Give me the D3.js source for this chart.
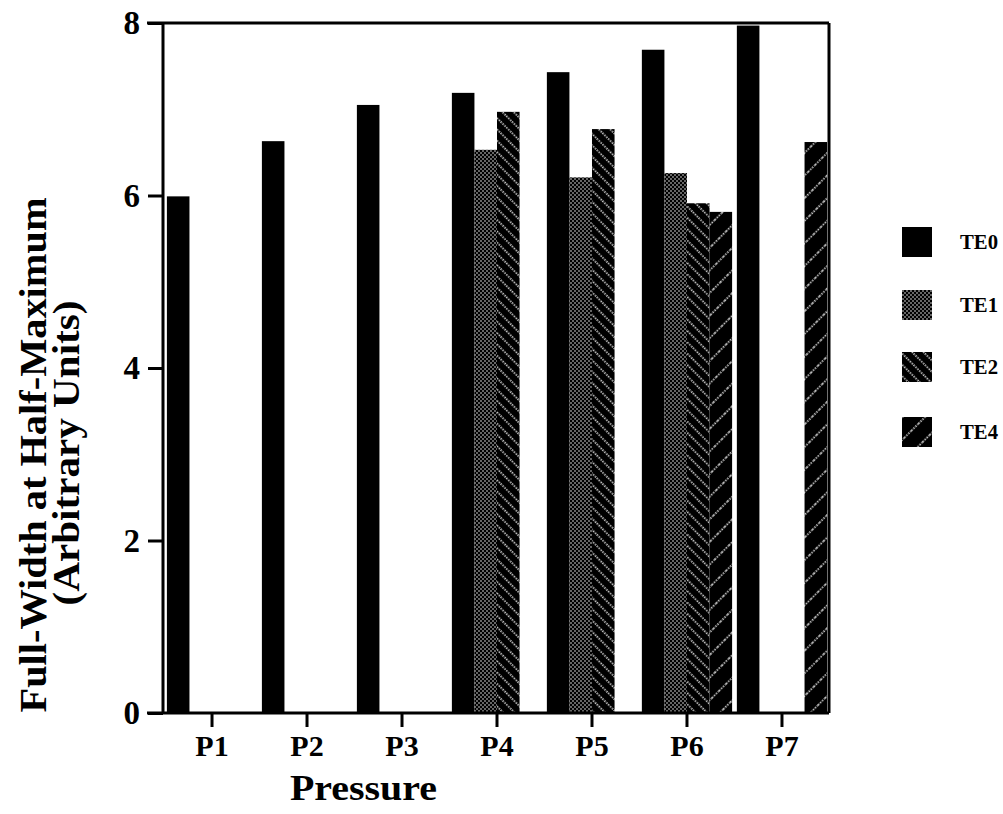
<!DOCTYPE html>
<html><head><meta charset="utf-8">
<script src="https://cdn.jsdelivr.net/npm/d3@7"></script>
<style>
body{margin:0;background:#fff;}
text{font-family:"Liberation Serif","Times New Roman",serif;}
</style></head>
<body>
<svg id="chart" width="1003" height="814"></svg>
<script>
const categories = ["P1","P2","P3","P4","P5","P6","P7"];
const seriesNames = ["TE0","TE1","TE2","TE4"];
const TE0 = [5.99, 6.63, 7.05, 7.19, 7.43, 7.69, 7.97];
const TE1 = [null, null, null, 6.53, 6.21, 6.26, null];
const TE2 = [null, null, null, 6.97, 6.77, 5.91, null];
const TE4 = [null, null, null, null, null, 5.81, 6.62];
const yTicks = [0, 2, 4, 6, 8];
const xTitle = "Pressure";
const yTitle1 = "Full-Width at Half-Maximum";
const yTitle2 = "(Arbitrary Units)";

(function(){
const seriesValues = {TE0, TE1, TE2, TE4};

const svg = d3.select("#chart");
const defs = svg.append("defs");

// TE1 dotted
const p1 = defs.append("pattern").attr("id","pTE1").attr("patternUnits","userSpaceOnUse")
  .attr("width",4).attr("height",4);
p1.append("rect").attr("width",4).attr("height",4).attr("fill","#000");
p1.append("circle").attr("cx",1).attr("cy",1).attr("r",0.75).attr("fill","#fff");
p1.append("circle").attr("cx",3).attr("cy",3).attr("r",0.75).attr("fill","#fff");

// TE2 "\" dotted lines
const p2 = defs.append("pattern").attr("id","pTE2").attr("patternUnits","userSpaceOnUse")
  .attr("width",8).attr("height",8).attr("patternTransform","rotate(45)");
p2.append("rect").attr("width",8).attr("height",8).attr("fill","#000");
p2.append("line").attr("x1",0).attr("y1",4).attr("x2",8).attr("y2",4)
  .attr("stroke","#fff").attr("stroke-width",1.3).attr("stroke-dasharray","1.4,1.4");

// TE4 "/" dashed lines
const p4 = defs.append("pattern").attr("id","pTE4").attr("patternUnits","userSpaceOnUse")
  .attr("width",10).attr("height",16).attr("patternTransform","rotate(-45)");
p4.append("rect").attr("width",10).attr("height",16).attr("fill","#000");
p4.append("line").attr("x1",0).attr("y1",5).attr("x2",10).attr("y2",5)
  .attr("stroke","#fff").attr("stroke-width",1.3).attr("stroke-dasharray","1.4,1.4");

const fills = {TE0:"#000", TE1:"url(#pTE1)", TE2:"url(#pTE2)", TE4:"url(#pTE4)"};

const mLeft = 163, mRight = 829, mTop = 23, mBottom = 713;

const x = d3.scaleBand().domain(categories).range([mLeft+2, mRight]).paddingInner(0.05).paddingOuter(0.02);
const xi = d3.scaleBand().domain(seriesNames).range([0, x.bandwidth()]).padding(0);
const y = d3.scaleLinear().domain([0, 8]).range([mBottom, mTop]);

// bars
const g = svg.append("g");
seriesNames.forEach(s => {
  const vals = seriesValues[s];
  g.selectAll(null).data(categories.map((c,i)=>({c, v: vals[i]})).filter(d=>d.v!=null))
    .enter().append("rect")
    .attr("x", d => x(d.c) + xi(s))
    .attr("y", d => y(d.v))
    .attr("width", xi.bandwidth())
    .attr("height", d => y(0) - y(d.v))
    .attr("fill", fills[s]);
});

// y axis
const yAxis = svg.append("g").attr("transform",`translate(${mLeft},0)`)
  .call(d3.axisLeft(y).tickValues(yTicks).tickSize(15).tickPadding(8).tickFormat(d3.format("d")));
yAxis.select(".domain").remove();
yAxis.selectAll(".tick line").attr("stroke","#000").attr("stroke-width",3);
yAxis.selectAll(".tick text").style("font-size","33px").attr("font-weight","bold").attr("fill","#000");

// x axis
const xAxis = svg.append("g").attr("transform",`translate(0,${mBottom})`)
  .call(d3.axisBottom(x).tickSize(14).tickPadding(8));
xAxis.select(".domain").remove();
xAxis.selectAll(".tick line").attr("stroke","#000").attr("stroke-width",3);
xAxis.selectAll(".tick text").style("font-size","30px").attr("font-weight","bold").attr("fill","#000");

// frame
const frame = svg.append("g").attr("stroke","#000").attr("stroke-width",3).attr("fill","none");
frame.append("line").attr("x1",mLeft).attr("x2",mLeft).attr("y1",mTop).attr("y2",mBottom);
frame.append("line").attr("x1",mLeft-16).attr("x2",mRight).attr("y1",mTop).attr("y2",mTop);
frame.append("line").attr("x1",mRight).attr("x2",mRight).attr("y1",mTop).attr("y2",mBottom);
frame.append("line").attr("x1",mLeft-16).attr("x2",mRight).attr("y1",mBottom).attr("y2",mBottom);

// titles
svg.append("text").attr("x",(290+437)/2).attr("y",800).attr("text-anchor","middle")
  .style("font-size","36px").attr("font-weight","bold").attr("textLength",147).attr("lengthAdjust","spacingAndGlyphs")
  .text(xTitle);
svg.append("text").attr("transform","translate(46,455) rotate(-90)").attr("text-anchor","middle")
  .style("font-size","37px").attr("font-weight","bold").attr("textLength",515).attr("lengthAdjust","spacingAndGlyphs")
  .text(yTitle1);
svg.append("text").attr("transform","translate(79,453) rotate(-90)").attr("text-anchor","middle")
  .style("font-size","37px").attr("font-weight","bold").attr("textLength",305).attr("lengthAdjust","spacingAndGlyphs")
  .text(yTitle2);

// legend
const legY = [227, 290, 352, 417];
const leg = svg.append("g");
seriesNames.forEach((s,i) => {
  leg.append("rect").attr("x",902).attr("y",legY[i]).attr("width",30).attr("height",30).attr("fill",fills[s]);
  leg.append("text").attr("x",960).attr("y",legY[i]+22).style("font-size","22px").attr("font-weight","bold")
    .attr("textLength",38).attr("lengthAdjust","spacingAndGlyphs").text(s);
});
})();
</script>
</body></html>
